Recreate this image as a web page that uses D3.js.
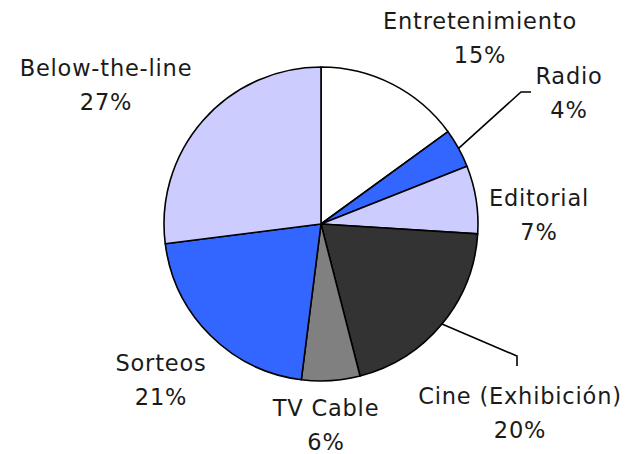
<!DOCTYPE html>
<html>
<head>
<meta charset="utf-8">
<script src="https://cdn.jsdelivr.net/npm/d3@7"></script>
<style>
  html, body { margin: 0; padding: 0; background: #ffffff; }
  svg { display: block; }
  text { font-family: "DejaVu Sans", sans-serif; fill: #1a1a1a; }
</style>
</head>
<body>
<svg id="chart" width="630" height="454"></svg>
<script>
// Share of spend by medium (percent), clockwise from 12 o'clock
const categories = ["Entretenimiento", "Radio", "Editorial", "Cine (Exhibición)", "TV Cable", "Sorteos", "Below-the-line"];
const shares = [15, 4, 7, 20, 6, 21, 27];
const sliceColors = ["#ffffff", "#3366ff", "#ccccff", "#333333", "#808080", "#3366ff", "#ccccff"];

// Label anchor points (centre x, baseline of first line) and optional leader elbows
const labelPos = [
  [480, 29], [569, 84], [539, 206], [520, 404], [326, 416], [161, 371], [106, 76]
];
const leaders = { 1: [[521, 92], [531, 92]], 3: [[517, 356], [517, 366]] };

const svg = d3.select("#chart");
const cx = 321, cy = 224, R = 157;

const pie = d3.pie().sort(null).value(d => d.v);
const data = pie(categories.map((c, i) => ({ name: c, v: shares[i], color: sliceColors[i] })));
const arc = d3.arc().innerRadius(0).outerRadius(R);

const g = svg.append("g").attr("transform", `translate(${cx},${cy})`);
g.selectAll("path")
  .data(data)
  .join("path")
  .attr("d", arc)
  .attr("fill", d => d.data.color)
  .attr("stroke", "#000")
  .attr("stroke-width", 1.6)
  .attr("stroke-linejoin", "round");

// Leader lines from slice edge to the outside label
data.forEach((d, i) => {
  if (!leaders[i]) return;
  const mid = (d.startAngle + d.endAngle) / 2;
  const start = [cx + R * Math.sin(mid), cy - R * Math.cos(mid)];
  const pts = [start, ...leaders[i]];
  svg.append("path")
    .attr("d", d3.line()(pts))
    .attr("fill", "none")
    .attr("stroke", "#000")
    .attr("stroke-width", 1.6);
});

// Category and percentage labels
data.forEach((d, i) => {
  const [x, y] = labelPos[i];
  const t = svg.append("text")
    .attr("text-anchor", "middle")
    .attr("font-size", 22.5)
    .attr("letter-spacing", 0.8)
    .attr("x", x).attr("y", y);
  t.append("tspan").attr("x", x).text(d.data.name);
  t.append("tspan").attr("x", x).attr("dy", 34).text(d3.format("d")(d.data.v) + "%");
});
</script>
</body>
</html>
